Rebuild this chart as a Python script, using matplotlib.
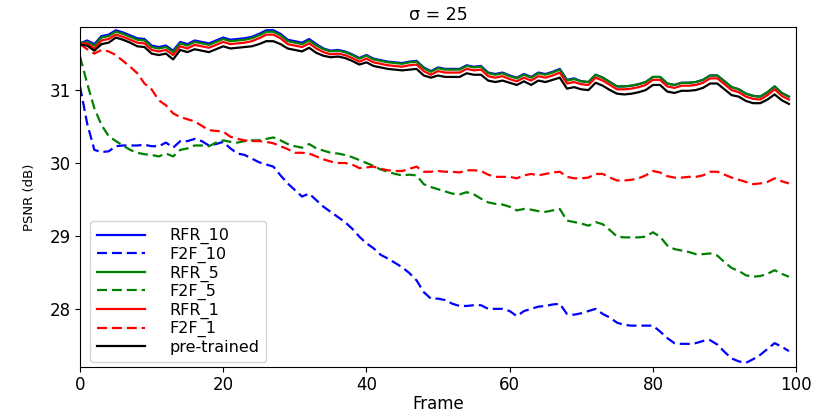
import matplotlib
matplotlib.use("Agg")
import matplotlib.pyplot as plt

frames = list(range(100))

rfr_5 = [31.64, 31.66, 31.61, 31.72, 31.74, 31.80, 31.77, 31.73, 31.69, 31.68,
         31.59, 31.57, 31.59, 31.52, 31.64, 31.61, 31.66, 31.64, 31.62, 31.66,
         31.70, 31.67, 31.68, 31.69, 31.71, 31.75, 31.80, 31.80, 31.75, 31.67,
         31.65, 31.63, 31.68, 31.61, 31.56, 31.53, 31.54, 31.52, 31.48, 31.43,
         31.47, 31.42, 31.40, 31.38, 31.37, 31.36, 31.38, 31.39, 31.30, 31.25,
         31.30, 31.28, 31.28, 31.28, 31.33, 31.31, 31.32, 31.23, 31.21, 31.23,
         31.19, 31.16, 31.21, 31.17, 31.23, 31.21, 31.24, 31.28, 31.13, 31.15,
         31.12, 31.11, 31.21, 31.17, 31.11, 31.05, 31.05, 31.06, 31.08, 31.11,
         31.18, 31.18, 31.09, 31.07, 31.10, 31.10, 31.11, 31.14, 31.20, 31.20,
         31.12, 31.04, 31.01, 30.95, 30.92, 30.91, 30.97, 31.05, 30.96, 30.91]

rfr_10 = [31.64, 31.68, 31.63, 31.74, 31.76, 31.82, 31.79, 31.75, 31.71, 31.70,
          31.61, 31.59, 31.61, 31.54, 31.66, 31.63, 31.68, 31.66, 31.64, 31.68,
          31.72, 31.69, 31.70, 31.71, 31.73, 31.77, 31.82, 31.82, 31.77, 31.69,
          31.67, 31.65, 31.70, 31.63, 31.57, 31.54, 31.55, 31.53, 31.49, 31.44,
          31.48, 31.43, 31.41, 31.39, 31.38, 31.37, 31.39, 31.40, 31.31, 31.26,
          31.31, 31.29, 31.29, 31.29, 31.34, 31.32, 31.33, 31.24, 31.22, 31.24,
          31.20, 31.17, 31.22, 31.18, 31.24, 31.22, 31.25, 31.29, 31.14, 31.16,
          31.12, 31.11, 31.21, 31.17, 31.11, 31.05, 31.05, 31.06, 31.08, 31.11,
          31.18, 31.18, 31.09, 31.07, 31.10, 31.10, 31.11, 31.14, 31.20, 31.20,
          31.12, 31.04, 31.01, 30.95, 30.92, 30.91, 30.97, 31.05, 30.96, 30.91]

rfr_1 = [31.63, 31.64, 31.57, 31.68, 31.70, 31.76, 31.73, 31.69, 31.65, 31.64,
         31.55, 31.53, 31.55, 31.48, 31.60, 31.57, 31.62, 31.60, 31.58, 31.62,
         31.66, 31.63, 31.64, 31.65, 31.67, 31.71, 31.76, 31.76, 31.71, 31.63,
         31.61, 31.59, 31.64, 31.57, 31.52, 31.49, 31.50, 31.48, 31.44, 31.39,
         31.43, 31.38, 31.36, 31.34, 31.33, 31.32, 31.34, 31.35, 31.26, 31.21,
         31.26, 31.24, 31.24, 31.24, 31.29, 31.27, 31.28, 31.19, 31.17, 31.19,
         31.15, 31.12, 31.17, 31.13, 31.19, 31.17, 31.20, 31.24, 31.09, 31.11,
         31.08, 31.07, 31.17, 31.13, 31.07, 31.01, 31.01, 31.02, 31.04, 31.07,
         31.14, 31.14, 31.05, 31.03, 31.06, 31.06, 31.07, 31.10, 31.16, 31.16,
         31.08, 31.00, 30.97, 30.91, 30.88, 30.87, 30.93, 31.01, 30.92, 30.87]

pretrained = [31.62, 31.61, 31.54, 31.63, 31.65, 31.72, 31.69, 31.65, 31.60, 31.59,
              31.50, 31.48, 31.50, 31.42, 31.55, 31.52, 31.56, 31.54, 31.52, 31.56,
              31.60, 31.57, 31.58, 31.59, 31.60, 31.63, 31.67, 31.67, 31.63, 31.57,
              31.55, 31.53, 31.58, 31.51, 31.47, 31.45, 31.46, 31.44, 31.40, 31.35,
              31.38, 31.33, 31.31, 31.29, 31.28, 31.27, 31.28, 31.29, 31.20, 31.17,
              31.20, 31.18, 31.18, 31.18, 31.23, 31.21, 31.21, 31.13, 31.11, 31.13,
              31.10, 31.07, 31.12, 31.07, 31.13, 31.11, 31.14, 31.17, 31.02, 31.04,
              31.01, 31.00, 31.10, 31.06, 31.00, 30.95, 30.94, 30.95, 30.97, 31.00,
              31.07, 31.07, 30.98, 30.96, 30.99, 30.99, 31.00, 31.03, 31.09, 31.09,
              31.01, 30.93, 30.91, 30.85, 30.82, 30.82, 30.87, 30.94, 30.86, 30.81]

f2f_10 = [31.05, 30.54, 30.18, 30.15, 30.16, 30.23, 30.24, 30.24, 30.24, 30.25,
          30.23, 30.23, 30.28, 30.21, 30.30, 30.30, 30.33, 30.30, 30.24, 30.26,
          30.29, 30.20, 30.13, 30.11, 30.06, 30.01, 29.98, 29.95, 29.83, 29.72,
          29.63, 29.54, 29.58, 29.49, 29.40, 29.33, 29.26, 29.19, 29.10, 28.99,
          28.90, 28.83, 28.74, 28.69, 28.63, 28.57, 28.49, 28.39, 28.23, 28.14,
          28.14, 28.12, 28.07, 28.04, 28.04, 28.05, 28.05, 28.00, 28.00, 28.00,
          27.97, 27.90, 27.97, 28.00, 28.03, 28.04, 28.06, 28.07, 27.93, 27.92,
          27.94, 27.97, 28.00, 27.93, 27.88, 27.81, 27.78, 27.77, 27.77, 27.77,
          27.77, 27.69, 27.60, 27.53, 27.52, 27.52, 27.53, 27.56, 27.57, 27.51,
          27.41, 27.32, 27.28, 27.26, 27.31, 27.37, 27.45, 27.53, 27.48, 27.42]

f2f_5 = [31.46, 31.09, 30.75, 30.52, 30.37, 30.30, 30.24, 30.18, 30.14, 30.12,
         30.11, 30.09, 30.13, 30.09, 30.18, 30.20, 30.24, 30.24, 30.23, 30.28,
         30.31, 30.29, 30.28, 30.30, 30.31, 30.31, 30.33, 30.35, 30.31, 30.26,
         30.23, 30.21, 30.26, 30.20, 30.17, 30.14, 30.13, 30.11, 30.08, 30.04,
         30.00, 29.96, 29.91, 29.88, 29.85, 29.83, 29.84, 29.83, 29.71, 29.67,
         29.64, 29.61, 29.58, 29.57, 29.60, 29.57, 29.51, 29.46, 29.44, 29.43,
         29.40, 29.35, 29.37, 29.36, 29.34, 29.33, 29.35, 29.37, 29.21, 29.19,
         29.17, 29.14, 29.19, 29.16, 29.08, 28.99, 28.98, 28.98, 28.98, 28.99,
         29.05, 28.99, 28.87, 28.82, 28.80, 28.78, 28.75, 28.75, 28.76, 28.73,
         28.64, 28.56, 28.52, 28.46, 28.44, 28.45, 28.48, 28.53, 28.48, 28.44]

f2f_1 = [31.63, 31.56, 31.50, 31.55, 31.53, 31.48, 31.40, 31.32, 31.23, 31.09,
         31.01, 30.86, 30.79, 30.68, 30.63, 30.60, 30.57, 30.51, 30.45, 30.44,
         30.43, 30.36, 30.33, 30.31, 30.30, 30.30, 30.29, 30.27, 30.23, 30.19,
         30.14, 30.14, 30.13, 30.09, 30.05, 30.02, 30.00, 30.00, 29.98, 29.93,
         29.94, 29.95, 29.92, 29.90, 29.89, 29.89, 29.92, 29.95, 29.88, 29.88,
         29.89, 29.88, 29.88, 29.87, 29.90, 29.90, 29.89, 29.84, 29.81, 29.81,
         29.81, 29.79, 29.83, 29.85, 29.83, 29.85, 29.87, 29.88, 29.81, 29.79,
         29.79, 29.80, 29.85, 29.85, 29.80, 29.76, 29.76, 29.77, 29.79, 29.83,
         29.89, 29.87, 29.82, 29.80, 29.80, 29.81, 29.81, 29.83, 29.88, 29.88,
         29.84, 29.80, 29.77, 29.74, 29.71, 29.72, 29.74, 29.79, 29.75, 29.72]

x_ticks = [0, 20, 40, 60, 80, 100]
y_ticks = [28, 29, 30, 31]

plt.rcParams['font.family'] = ['DejaVu Sans']
fig = plt.figure(figsize=(8.31, 4.15), dpi=100)
ax = fig.add_axes([0.0963, 0.1157, 0.8617, 0.8193])

dash = (4.5, 2.2)
lw = 1.6
ax.plot(frames, rfr_10, color='blue', lw=lw, label='RFR_10')
ax.plot(frames, f2f_10, color='blue', lw=lw, ls=(0, dash), label='F2F_10')
ax.plot(frames, rfr_5, color='green', lw=lw, label='RFR_5')
ax.plot(frames, f2f_5, color='green', lw=lw, ls=(0, dash), label='F2F_5')
ax.plot(frames, rfr_1, color='red', lw=lw, label='RFR_1')
ax.plot(frames, f2f_1, color='red', lw=lw, ls=(0, dash), label='F2F_1')
ax.plot(frames, pretrained, color='black', lw=lw, label='pre-trained')

ax.set_xlim(0, 100)
ax.set_ylim(27.203, 31.865)
ax.set_xticks(x_ticks)
ax.set_yticks(y_ticks)
ax.tick_params(labelsize=12, pad=3)
ax.set_xlabel('Frame', fontsize=12, labelpad=1)
ax.set_ylabel('PSNR (dB)', fontsize=9.5, labelpad=10)
ax.set_title('σ = 25', fontsize=12.5, pad=5)

leg = ax.legend(loc='lower left', bbox_to_anchor=(0.014, 0.015), borderaxespad=0,
                fontsize=11.5, handlelength=3.0, handletextpad=1.5, labelspacing=0.15,
                borderpad=0.45, fancybox=True, framealpha=0.8, edgecolor='#cccccc')

fig.savefig('out.png', dpi=100)
